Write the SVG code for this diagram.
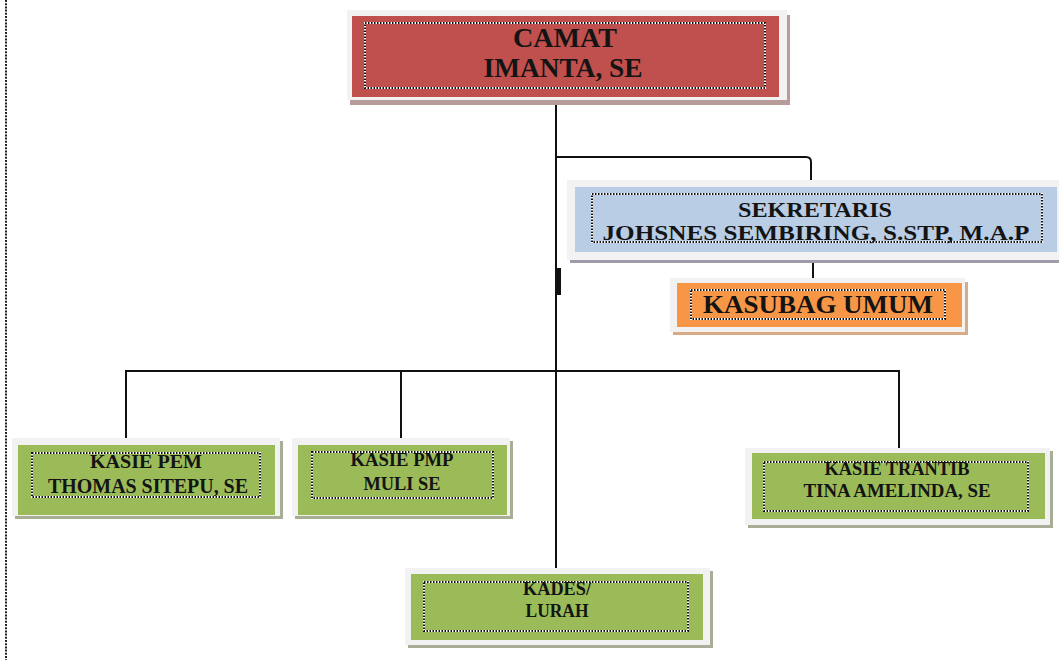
<svg xmlns="http://www.w3.org/2000/svg" width="1059" height="660" viewBox="0 0 1059 660">
<style>
.outer{fill:#f2f2f2;}
.dotw{fill:none;stroke:#ffffff;stroke-width:2;}
.dotb{fill:none;stroke:#111111;stroke-width:2;stroke-dasharray:1.5 1.5;}
.t{font-family:"Liberation Serif","DejaVu Serif",serif;font-weight:bold;fill:#141414;text-anchor:middle;}
.conn{fill:none;stroke:#111111;stroke-width:2;}
</style>
<rect width="1059" height="660" fill="#ffffff"/>
<line x1="6" y1="0" x2="6" y2="660" stroke="#222" stroke-width="2" stroke-dasharray="2 1.2"/>

<g id="connectors">
<path class="conn" d="M556,100 V570"/>
<path class="conn" d="M556,157 H806 Q811,157 811,162 V182"/>
<path class="conn" d="M813,242 V283"/>
<rect x="555" y="268" width="6" height="27" fill="#111"/>
<path class="conn" d="M126,445 V371 H899 V453"/>
<path class="conn" d="M401,371 V445"/>
</g>

<g id="camat">
<rect x="350" y="15" width="440" height="90" fill="#b89c9c"/>
<rect class="outer" x="347" y="10" width="440" height="90"/>
<rect x="352" y="16" width="427" height="81" fill="#c0504d"/>
<rect class="dotw" x="365" y="23" width="400" height="65"/>
<rect class="dotb" x="365" y="23" width="400" height="65"/>
<text class="t" x="565" y="47" font-size="27" textLength="104" lengthAdjust="spacingAndGlyphs">CAMAT</text>
<text class="t" x="563" y="77" font-size="27" textLength="159" lengthAdjust="spacingAndGlyphs">IMANTA, SE</text>
</g>

<g id="sekretaris">
<rect x="570" y="183" width="492" height="80" fill="#a19ba9"/>
<rect class="outer" x="567" y="180" width="492" height="80"/>
<rect x="575" y="187" width="482" height="65" fill="#b9cde5"/>
<rect class="dotw" x="592" y="194" width="450" height="48"/>
<rect class="dotb" x="592" y="194" width="450" height="48"/>
<text class="t" x="815" y="217" font-size="22" textLength="154" lengthAdjust="spacingAndGlyphs">SEKRETARIS</text>
<text class="t" x="816" y="240" font-size="22" textLength="427" lengthAdjust="spacingAndGlyphs">JOHSNES SEMBIRING, S.STP, M.A.P</text>
</g>

<g id="kasubag">
<rect x="673" y="282" width="295" height="53" fill="#d8aa85"/>
<rect class="outer" x="670" y="278" width="295" height="54"/>
<rect x="677" y="283" width="285" height="44" fill="#f79646"/>
<rect class="dotw" x="691" y="290" width="254" height="29"/>
<rect class="dotb" x="691" y="290" width="254" height="29"/>
<text class="t" x="818" y="313" font-size="26" textLength="230" lengthAdjust="spacingAndGlyphs">KASUBAG UMUM</text>
</g>

<g id="kasie-pem">
<rect x="15" y="441" width="268" height="78" fill="#a8ae96"/>
<rect class="outer" x="12" y="438" width="268" height="78"/>
<rect x="18" y="445" width="257" height="70" fill="#9bbb59"/>
<rect class="dotw" x="32" y="453" width="228" height="44"/>
<rect class="dotb" x="32" y="453" width="228" height="44"/>
<text class="t" x="146" y="468" font-size="19" textLength="112" lengthAdjust="spacingAndGlyphs">KASIE PEM</text>
<text class="t" x="148" y="493" font-size="21" textLength="200" lengthAdjust="spacingAndGlyphs">THOMAS SITEPU, SE</text>
</g>

<g id="kasie-pmp">
<rect x="295" y="441" width="218" height="78" fill="#a8ae96"/>
<rect class="outer" x="292" y="438" width="218" height="78"/>
<rect x="298" y="445" width="209" height="70" fill="#9bbb59"/>
<rect class="dotw" x="312" y="452" width="181" height="46"/>
<rect class="dotb" x="312" y="452" width="181" height="46"/>
<text class="t" x="402" y="466" font-size="18" textLength="103" lengthAdjust="spacingAndGlyphs">KASIE  PMP</text>
<text class="t" x="402" y="490" font-size="18" textLength="77" lengthAdjust="spacingAndGlyphs">MULI SE</text>
</g>

<g id="kasie-trantib">
<rect x="748" y="451" width="305" height="77" fill="#a8ae96"/>
<rect class="outer" x="745" y="448" width="305" height="77"/>
<rect x="752" y="453" width="293" height="66" fill="#9bbb59"/>
<rect class="dotw" x="764" y="462" width="264" height="49"/>
<rect class="dotb" x="764" y="462" width="264" height="49"/>
<text class="t" x="897" y="475" font-size="18" textLength="145" lengthAdjust="spacingAndGlyphs">KASIE  TRANTIB</text>
<text class="t" x="897" y="497" font-size="18" textLength="187" lengthAdjust="spacingAndGlyphs">TINA AMELINDA, SE</text>
</g>

<g id="kades">
<rect x="408" y="571" width="305" height="77" fill="#a8ae96"/>
<rect class="outer" x="405" y="568" width="305" height="77"/>
<rect x="411" y="574" width="292" height="66" fill="#9bbb59"/>
<rect class="dotw" x="424" y="582" width="264" height="49"/>
<rect class="dotb" x="424" y="582" width="264" height="49"/>
<text class="t" x="557" y="595" font-size="18" textLength="68" lengthAdjust="spacingAndGlyphs">KADES/</text>
<text class="t" x="557" y="617" font-size="19" textLength="63" lengthAdjust="spacingAndGlyphs">LURAH</text>
</g>
</svg>
